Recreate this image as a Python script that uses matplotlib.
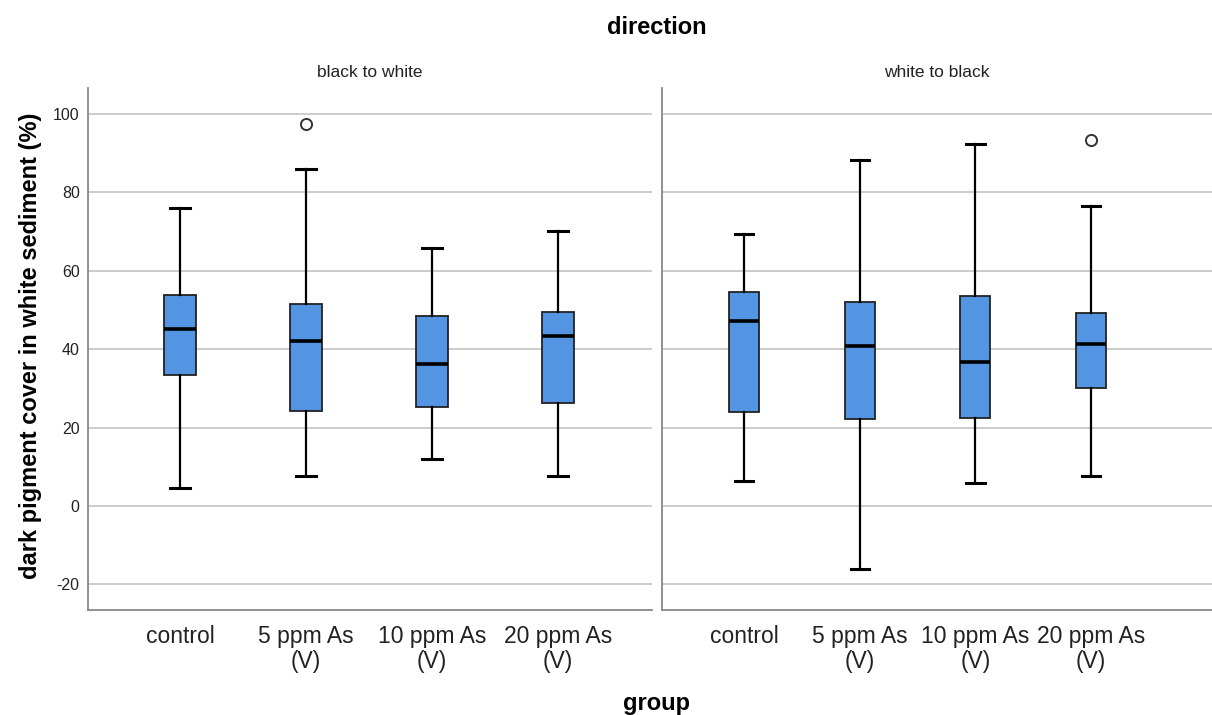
import matplotlib
matplotlib.use("Agg")
import matplotlib.pyplot as plt

plt.rcParams['font.family'] = ['Liberation Sans', 'DejaVu Sans']
plt.rcParams['axes.unicode_minus'] = False

groups = ["control", "5 ppm As\n(V)", "10 ppm As\n(V)", "20 ppm As\n(V)"]
panels = ["black to white", "white to black"]

# five-number summaries per panel: low whisker, Q1, median, Q3, high whisker
btw_low = [4.7, 7.7, 12.0, 7.7]
btw_q1 = [33.4, 24.2, 25.3, 26.3]
btw_med = [45.1, 42.0, 36.2, 43.4]
btw_q3 = [53.8, 51.6, 48.5, 49.5]
btw_high = [76.1, 86.0, 65.8, 70.2]
btw_out = [[], [97.4], [], []]

wtb_low = [6.5, -16.0, 5.9, 7.7]
wtb_q1 = [24.1, 22.3, 22.4, 30.2]
wtb_med = [47.1, 40.8, 36.7, 41.2]
wtb_q3 = [54.7, 52.0, 53.5, 49.3]
wtb_high = [69.3, 88.2, 92.4, 76.4]
wtb_out = [[], [], [], [93.4]]

yticks = [-20, 0, 20, 40, 60, 80, 100]

BOX_COLOR = "#5394e3"


def make_stats(low, q1, med, q3, high, out):
    return [dict(whislo=a, q1=b, med=c, q3=d, whishi=e, fliers=f, label="")
            for a, b, c, d, e, f in zip(low, q1, med, q3, high, out)]


fig = plt.figure(figsize=(12.12, 7.15), dpi=100)
ax1 = fig.add_axes([0.0726, 0.1469, 0.4653, 0.730])
ax2 = fig.add_axes([0.5462, 0.1469, 0.4538, 0.730])

data = [
    (ax1, make_stats(btw_low, btw_q1, btw_med, btw_q3, btw_high, btw_out), (-0.73, 3.746)),
    (ax2, make_stats(wtb_low, wtb_q1, wtb_med, wtb_q3, wtb_high, wtb_out), (-0.71, 4.045)),
]

for i, (ax, stats, xl) in enumerate(data):
    pos = list(range(len(groups)))
    ax.bxp(stats, positions=pos, widths=0.26, capwidths=0.16, patch_artist=True,
           boxprops=dict(facecolor=BOX_COLOR, edgecolor="#222222", linewidth=1.3),
           medianprops=dict(color="black", linewidth=2.6),
           whiskerprops=dict(color="black", linewidth=1.6),
           capprops=dict(color="black", linewidth=2.2),
           flierprops=dict(marker="o", markerfacecolor="none", markeredgecolor="#333333",
                           markersize=8, markeredgewidth=1.4),
           zorder=3)
    ax.set_xlim(*xl)
    ax.set_ylim(-26.5, 106.6)
    ax.set_yticks(yticks)
    ax.grid(axis="y", color="#c8c8c8", linewidth=1.3, zorder=0)
    ax.set_axisbelow(True)
    ax.set_xticks(pos)
    ax.set_xticklabels(groups, fontsize=16.5, color="#222222", linespacing=1.08)
    ax.tick_params(axis="x", length=0, pad=11)
    ax.tick_params(axis="y", length=0, pad=6, labelsize=11.5, labelcolor="#222222")
    for s in ["top", "right"]:
        ax.spines[s].set_visible(False)
    for s in ["left", "bottom"]:
        ax.spines[s].set_color("#888888")
        ax.spines[s].set_linewidth(1.3)
    ax.set_title(panels[i], fontsize=12.5, color="#222222", pad=8)
    if i == 1:
        ax.tick_params(axis="y", labelleft=False)

fig.text(0.542, 0.962, "direction", ha="center", va="center", fontsize=17, fontweight="bold")
fig.text(0.542, 0.016, "group", ha="center", va="center", fontsize=17, fontweight="bold")
fig.text(0.025, 0.516, "dark pigment cover in white sediment (%)", rotation=90,
         ha="center", va="center", fontsize=17, fontweight="bold")

fig.savefig("out.png", dpi=100)
